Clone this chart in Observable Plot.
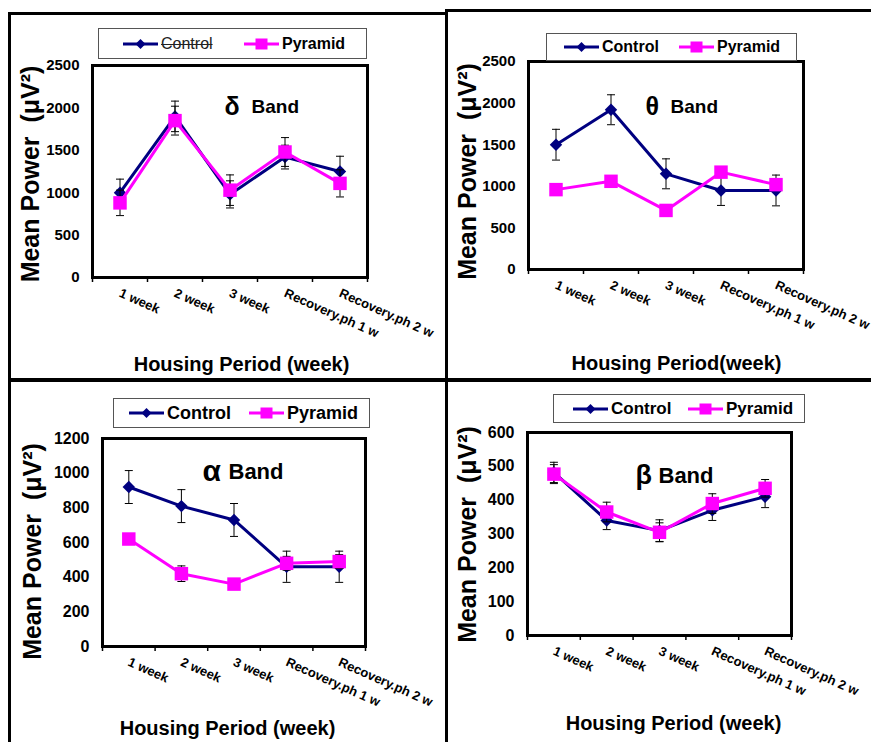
<!DOCTYPE html>
<html><head><meta charset="utf-8">
<script src="https://cdn.jsdelivr.net/npm/d3@7"></script>
<script src="https://cdn.jsdelivr.net/npm/@observablehq/plot@0.6"></script>
<style>
body{margin:0;background:#fff;}
#page{position:relative;width:871px;height:742px;overflow:hidden;background:#fff;font-family:Arial,"Liberation Sans",sans-serif;}
.q{position:absolute;}
.q svg{overflow:visible;}
.rule{position:absolute;background:#000;z-index:5;}
.legend{position:absolute;border:1px solid #555;background:#fff;box-sizing:border-box;z-index:2;}
.legend .item{position:absolute;top:0;display:flex;align-items:center;}
</style></head>
<body><div id="page"></div>
<script>
// ---------- data ----------
const categories = ["1 week", "2 week", "3 week", "Recovery.ph 1 w", "Recovery.ph 2 w"];
const seriesNames = ["Control", "Pyramid"];
const seriesColors = ["#000080", "#FF00FF"];

const deltaControl = [1000, 1900, 980, 1420, 1250];
const deltaControlErr = [160, 180, 160, 140, 180];
const deltaPyramid = [880, 1850, 1030, 1480, 1110];
const deltaPyramidErr = [150, 170, 180, 170, 160];
const deltaTicks = [0, 500, 1000, 1500, 2000, 2500];

const thetaControl = [1500, 1920, 1150, 950, 950];
const thetaControlErr = [185, 180, 180, 180, 185];
const thetaPyramid = [960, 1060, 710, 1170, 1020];
const thetaPyramidErr = [50, 50, 50, 50, 50];
const thetaTicks = [0, 500, 1000, 1500, 2000, 2500];

const alphaControl = [920, 810, 730, 460, 460];
const alphaControlErr = [95, 95, 95, 90, 90];
const alphaPyramid = [620, 420, 360, 480, 490];
const alphaPyramidErr = [30, 45, 30, 40, 40];
const alphaTicks = [0, 200, 400, 600, 800, 1000, 1200];

const betaControl = [482, 340, 310, 370, 410];
const betaControlErr = [30, 27, 32, 30, 32];
const betaPyramid = [477, 365, 305, 390, 435];
const betaPyramidErr = [28, 29, 28, 29, 26];
const betaTicks = [0, 100, 200, 300, 400, 500, 600];

const yTitle = "Mean Power\u00a0 (\u03bcV\u00b2)";

// ---------- layout ----------
const panels = [
  {greek: "δ", control: deltaControl, controlErr: deltaControlErr, pyramid: deltaPyramid, pyramidErr: deltaPyramidErr, ticks: deltaTicks,
   xTitle: "Housing Period (week)",
   box: {left: 0, top: 0, width: 446, height: 380}, margin: {top: 65, right: 79, bottom: 103, left: 92},
   yFont: 15, greekFont: 25, greekOff: [132, 41], bandOff: [159, 41], bandFont: 19,
   yTitleOff: [-62, 2.5], xTitleOff: [11.5, 87],
   legend: {x: 98, y: 28, w: 269, h: 31, items: [24, 145], font: 16, strike: true}},
  {greek: "θ", control: thetaControl, controlErr: thetaControlErr, pyramid: thetaPyramid, pyramidErr: thetaPyramidErr, ticks: thetaTicks,
   xTitle: "Housing Period(week)",
   box: {left: 446, top: 0, width: 425, height: 380}, margin: {top: 61, right: 68, bottom: 111, left: 82},
   yFont: 15, greekFont: 25, greekOff: [117, 45], bandOff: [142, 45], bandFont: 19,
   yTitleOff: [-61, 6], xTitleOff: [10.5, 94],
   legend: {x: 546, y: 33, w: 251, h: 28, items: [17, 132], font: 16}},
  {greek: "α", control: alphaControl, controlErr: alphaControlErr, pyramid: alphaPyramid, pyramidErr: alphaPyramidErr, ticks: alphaTicks,
   xTitle: "Housing Period (week)",
   box: {left: 0, top: 380, width: 446, height: 362}, margin: {top: 58, right: 81, bottom: 96, left: 102},
   yFont: 16, greekFont: 30, greekOff: [100, 33], bandOff: [126, 33], bandFont: 22,
   yTitleOff: [-70, 9], xTitleOff: [-6.5, 82],
   legend: {x: 113, y: 398, w: 257, h: 30, items: [15, 135], font: 18}},
  {greek: "β", control: betaControl, controlErr: betaControlErr, pyramid: betaPyramid, pyramidErr: betaPyramidErr, ticks: betaTicks,
   xTitle: "Housing Period (week)",
   box: {left: 446, top: 380, width: 425, height: 362}, margin: {top: 52, right: 80, bottom: 107, left: 81},
   yFont: 16, greekFont: 27, greekOff: [108, 43], bandOff: [131, 43], bandFont: 22,
   yTitleOff: [-60, 0.5], xTitleOff: [14, 88],
   legend: {x: 553, y: 394, w: 252, h: 29, items: [19, 134], font: 17}}
];

const capSymbol = {draw(ctx) { ctx.moveTo(-4, 0); ctx.lineTo(4, 0); }};
const page = document.getElementById("page");

function errMarks(data) {
  return [
    Plot.ruleX(data, {x: "pos", y1: d => d.value - d.err, y2: d => d.value + d.err, stroke: "#000", strokeWidth: 1}),
    Plot.dot(data, {x: "pos", y: d => d.value + d.err, symbol: capSymbol, stroke: "#000", strokeWidth: 1, fill: "none", r: 4}),
    Plot.dot(data, {x: "pos", y: d => d.value - d.err, symbol: capSymbol, stroke: "#000", strokeWidth: 1, fill: "none", r: 4})
  ];
}

function makePanel(p) {
  const rows = [];
  seriesNames.forEach((s, k) => {
    const vals = k === 0 ? p.control : p.pyramid;
    const errs = k === 0 ? p.controlErr : p.pyramidErr;
    vals.forEach((v, i) => rows.push({series: s, cat: categories[i], pos: i + 0.5, value: v, err: errs[i]}));
  });
  const ctrl = rows.filter(d => d.series === "Control");
  const pyr = rows.filter(d => d.series === "Pyramid");
  const m = p.margin;
  const chart = Plot.plot({
    width: p.box.width, height: p.box.height,
    marginTop: m.top, marginRight: m.right, marginBottom: m.bottom, marginLeft: m.left,
    style: {fontFamily: "Arial, 'Liberation Sans', sans-serif", background: "transparent", color: "#000", overflow: "visible"},
    x: {type: "linear", domain: [0, categories.length], axis: null},
    y: {type: "linear", domain: [0, d3.max(p.ticks)], axis: null},
    marks: [
      Plot.axisY({ticks: p.ticks, tickSize: 0, tickPadding: 13, tickFormat: d => String(d), fontSize: p.yFont, fontWeight: "bold", label: null}),
      Plot.axisX({ticks: d3.range(categories.length + 1), tickSize: 5, tickFormat: () => "", label: null, strokeWidth: 1.5}),
      Plot.axisX({ticks: categories.map((c, i) => i + 0.5), tickSize: 0, tickPadding: 15, tickRotate: 24,
                  tickFormat: v => categories[Math.round(v - 0.5)], fontSize: 13, fontWeight: "bold", label: null}),
      Plot.line(ctrl, {x: "pos", y: "value", stroke: seriesColors[0], strokeWidth: 3}),
      ...errMarks(ctrl),
      Plot.dot(ctrl, {x: "pos", y: "value", symbol: "diamond2", r: 5.6, fill: seriesColors[0], stroke: "none"}),
      Plot.line(pyr, {x: "pos", y: "value", stroke: seriesColors[1], strokeWidth: 3}),
      ...errMarks(pyr),
      Plot.dot(pyr, {x: "pos", y: "value", symbol: "square", r: 7.6, fill: seriesColors[1], stroke: "none"}),
      Plot.frame({stroke: "#000", strokeWidth: 3}),
      Plot.text([p.greek], {text: d => d, frameAnchor: "top-left", dx: p.greekOff[0], dy: p.greekOff[1], fontSize: p.greekFont, fontWeight: "bold", textAnchor: "start", lineAnchor: "middle"}),
      Plot.text(["Band"], {text: d => d, frameAnchor: "top-left", dx: p.bandOff[0], dy: p.bandOff[1], fontSize: p.bandFont, fontWeight: "bold", textAnchor: "start", lineAnchor: "middle"}),
      Plot.text([yTitle], {text: d => d, frameAnchor: "left", rotate: -90, dx: p.yTitleOff[0], dy: p.yTitleOff[1], fontSize: 25, fontWeight: "bold", textAnchor: "middle", lineAnchor: "middle"}),
      Plot.text([p.xTitle], {text: d => d, frameAnchor: "bottom", dx: p.xTitleOff[0], dy: p.xTitleOff[1], fontSize: 20, fontWeight: "bold", textAnchor: "middle", lineAnchor: "middle"})
    ]
  });
  const wrap = document.createElement("div");
  wrap.className = "q";
  Object.assign(wrap.style, {left: p.box.left + "px", top: p.box.top + "px", width: p.box.width + "px", height: p.box.height + "px"});
  wrap.append(chart);
  page.append(wrap);
  makeLegend(p.legend);
}

function makeLegend(L) {
  const box = document.createElement("div");
  box.className = "legend";
  Object.assign(box.style, {left: L.x + "px", top: L.y + "px", width: L.w + "px", height: L.h + "px"});
  seriesNames.forEach((name, k) => {
    const item = document.createElement("div");
    item.className = "item";
    item.style.left = L.items[k] + "px";
    item.style.height = (L.h - 2) + "px";
    const svg = d3.create("svg").attr("width", 35).attr("height", 16).style("display", "block");
    svg.append("line").attr("x1", 0).attr("x2", 35).attr("y1", 8).attr("y2", 8).attr("stroke", seriesColors[k]).attr("stroke-width", 3);
    if (k === 0) svg.append("path").attr("d", "M17.5,3L22.5,8L17.5,13L12.5,8Z").attr("fill", seriesColors[k]);
    else svg.append("rect").attr("x", 11.5).attr("y", 2.5).attr("width", 12).attr("height", 11).attr("fill", seriesColors[k]);
    item.append(svg.node());
    const span = document.createElement("span");
    span.textContent = name;
    Object.assign(span.style, {marginLeft: "3px", fontSize: L.font + "px", fontWeight: "bold", color: "#000", lineHeight: "1"});
    if (L.strike && k === 0) { span.style.fontWeight = "normal"; span.style.textDecoration = "line-through"; span.style.color = "#222"; }
    item.append(span);
    box.append(item);
  });
  page.append(box);
}

panels.forEach(makePanel);

// panel border lines
const rules = [
  {left: 8, top: 12, width: 439, height: 3},
  {left: 445, top: 9, width: 426, height: 3},
  {left: 8, top: 12, width: 3, height: 730},
  {left: 445, top: 9, width: 3, height: 733},
  {left: 8, top: 378, width: 863, height: 4}
];
rules.forEach(r => {
  const d = document.createElement("div");
  d.className = "rule";
  Object.assign(d.style, {left: r.left + "px", top: r.top + "px", width: r.width + "px", height: r.height + "px"});
  page.append(d);
});
</script>
</body></html>
